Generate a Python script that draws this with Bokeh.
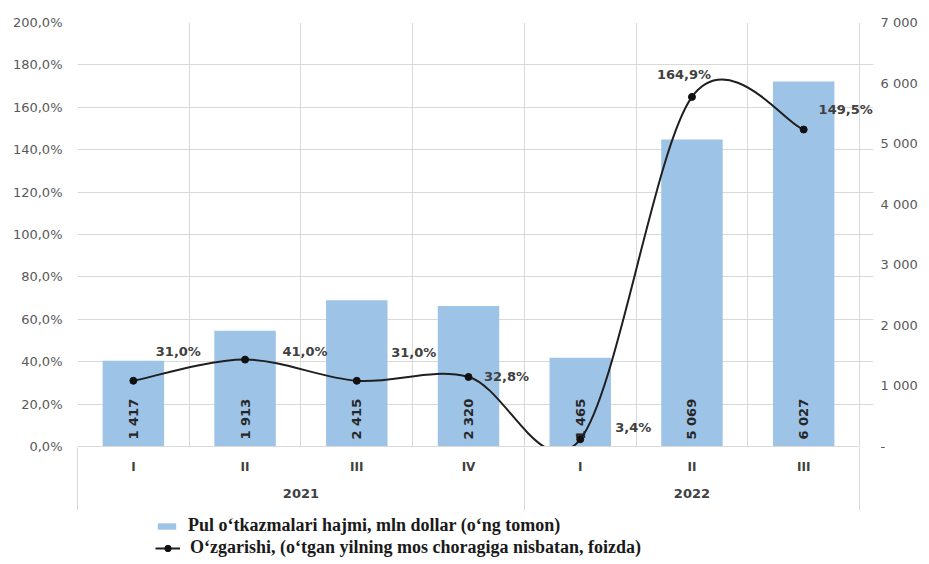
import numpy as np
from bokeh.plotting import figure
from bokeh.layouts import column
from bokeh.models import (Range1d, LinearAxis, FixedTicker, ColumnDataSource,
                          LabelSet, Legend, LegendItem)
from bokeh.core.properties import value
from bokeh.embed import file_html
from bokeh.resources import INLINE

# ---------------- data ----------------
quarters = ["I", "II", "III", "IV", "I", "II", "III"]
years = ["2021", "2022"]
quarters_per_year = [4, 3]
volume = [1417, 1913, 2415, 2320, 1465, 5069, 6027]        # mln dollar (right axis)
change = [31.0, 41.0, 31.0, 32.8, 3.4, 164.9, 149.5]       # % (left axis)
left_ticks = [0, 20, 40, 60, 80, 100, 120, 140, 160, 180, 200]
right_ticks = [0, 1000, 2000, 3000, 4000, 5000, 6000, 7000]
bar_name = "Pul o\u2018tkazmalari hajmi, mln dollar (o\u2018ng tomon)"
line_name = "O\u2018zgarishi, (o\u2018tgan yilning mos choragiga nisbatan, foizda)"

# label offsets in pixels (style only)
pct_dx = [45, 60, 57, 38, 53, -8, 42]
pct_dy = [29, 8, 28, 0, 12, 22, 20]

SANS = "DejaVu Sans"
GRID = "#d9d9d9"
BAR_COLOR = "#9DC3E6"
LINE_COLOR = "#1f1f1f"
DOT_COLOR = "#111111"
X_PAD = 0.125   # extra room right of the last category (style)

n = len(quarters)
xc = np.arange(n) + 0.5
bounds = np.concatenate([[0], np.cumsum(quarters_per_year)]).astype(float)
year_centers = [(bounds[i] + bounds[i + 1]) / 2 for i in range(len(years))]

left_labels = {t: f"{t:.1f}%".replace(".", ",") for t in left_ticks}
right_labels = {t: ("-" if t == 0 else f"{t:,}".replace(",", " ")) for t in right_ticks}
vol_labels = [f"{v:,}".replace(",", " ") for v in volume]
pct_labels = [f"{v:.1f}%".replace(".", ",") for v in change]

p = figure(width=920, height=510,
           x_range=Range1d(0, n + X_PAD), y_range=Range1d(0, 200),
           output_backend="svg", toolbar_location=None,
           min_border_left=77, min_border_right=44, min_border_top=22,
           min_border_bottom=40)
p.outline_line_color = None
p.extra_y_ranges = {"right": Range1d(0, 7000)}

# left axis
ya = p.yaxis[0]
ya.ticker = FixedTicker(ticks=left_ticks)
ya.major_label_overrides = left_labels
ya.axis_line_color = None
ya.major_tick_line_color = None
ya.minor_tick_line_color = None
ya.major_label_standoff = 9
ya.major_label_text_font = SANS
ya.major_label_text_font_size = "13px"
ya.major_label_text_color = "#595959"

# right axis
ra = LinearAxis(y_range_name="right", ticker=FixedTicker(ticks=right_ticks))
ra.major_label_overrides = right_labels
ra.axis_line_color = None
ra.major_tick_line_color = None
ra.minor_tick_line_color = None
ra.major_label_standoff = 1
ra.major_label_text_font = SANS
ra.major_label_text_font_size = "13px"
ra.major_label_text_color = "#595959"
p.add_layout(ra, "right")

# bottom axis: quarters
xa = p.xaxis[0]
xa.ticker = FixedTicker(ticks=list(xc))
xa.bounds = (0, n)
xa.major_label_overrides = {float(x): q for x, q in zip(xc, quarters)}
xa.axis_line_color = GRID
xa.major_tick_line_color = None
xa.minor_tick_line_color = None
xa.major_label_standoff = 7
xa.major_label_text_font = SANS
xa.major_label_text_font_style = "bold"
xa.major_label_text_font_size = "12px"
xa.major_label_text_color = "#404040"

# bottom axis: years
yr = LinearAxis(ticker=FixedTicker(ticks=year_centers))
yr.major_label_overrides = {float(c): y for c, y in zip(year_centers, years)}
yr.axis_line_color = None
yr.major_tick_line_color = None
yr.minor_tick_line_color = None
yr.major_label_standoff = 6
yr.major_label_text_font = SANS
yr.major_label_text_font_style = "bold"
yr.major_label_text_font_size = "13px"
yr.major_label_text_color = "#404040"
p.add_layout(yr, "below")

# group separators (drawn as minor ticks of a label-less axis)
sep = LinearAxis(ticker=FixedTicker(ticks=[], minor_ticks=list(bounds)))
sep.axis_line_color = None
sep.major_tick_line_color = None
sep.major_label_text_font_size = "0px"
sep.minor_tick_line_color = GRID
sep.minor_tick_in = 53
sep.minor_tick_out = 10
sep.major_label_standoff = 0
p.add_layout(sep, "below")

# grids
p.xgrid.ticker = FixedTicker(ticks=list(range(n + 1)))
p.ygrid.ticker = FixedTicker(ticks=left_ticks)
p.ygrid.bounds = (0, n)
p.xgrid.grid_line_color = GRID
p.ygrid.grid_line_color = GRID

# bars
bars = p.vbar(x=xc, top=volume, width=0.55, y_range_name="right",
              fill_color=BAR_COLOR, line_color=None)
p.text(x=xc, y=np.zeros(n), text=vol_labels, angle=np.pi / 2, y_range_name="right",
       text_align="left", text_baseline="middle", y_offset=-7,
       text_font=value(SANS), text_font_style="bold", text_font_size="13px",
       text_color="#262626")

# smoothed line (Catmull-Rom style bezier through the data points)
yv = np.array(change, dtype=float)
idx = np.arange(n - 1)
im1 = np.maximum(idx - 1, 0)
ip2 = np.minimum(idx + 2, n - 1)
cx0 = xc[idx] + (xc[idx + 1] - xc[im1]) / 6
cy0 = yv[idx] + (yv[idx + 1] - yv[im1]) / 6
cx1 = xc[idx + 1] - (xc[ip2] - xc[idx]) / 6
cy1 = yv[idx + 1] - (yv[ip2] - yv[idx]) / 6
curve = p.bezier(x0=xc[idx], y0=yv[idx], x1=xc[idx + 1], y1=yv[idx + 1],
                 cx0=cx0, cy0=cy0, cx1=cx1, cy1=cy1,
                 line_color=LINE_COLOR, line_width=2)
dots = p.scatter(x=xc, y=yv, size=7, fill_color=DOT_COLOR, line_color=DOT_COLOR)

src = ColumnDataSource(dict(x=xc, y=yv, text=pct_labels, dx=pct_dx, dy=pct_dy))
p.add_layout(LabelSet(x="x", y="y", text="text", x_offset="dx", y_offset="dy",
                      source=src, text_align="center", text_baseline="middle",
                      text_font=value(SANS), text_font_style="bold",
                      text_font_size="13px", text_color="#404040"))

# ---------------- legend strip ----------------
lg = figure(width=920, height=48, x_range=Range1d(0, 1), y_range=Range1d(0, 1),
            output_backend="svg", toolbar_location=None,
            x_axis_location=None, y_axis_location=None,
            min_border_left=0, min_border_right=0, min_border_top=0,
            min_border_bottom=0)
lg.outline_line_color = None
lg.grid.visible = False
# legend keys (same series, hidden in the strip; only their legend glyphs show)
key_bar = lg.vbar(x=xc, top=volume, width=0.55, fill_color=BAR_COLOR,
                  line_color=None, visible=False)
key_line = lg.line(x=xc, y=change, line_color=LINE_COLOR, line_width=2, visible=False)
key_dot = lg.scatter(x=xc, y=change, size=7, fill_color=DOT_COLOR,
                     line_color=DOT_COLOR, visible=False)

common = dict(padding=0, margin=0, spacing=0, border_line_color=None,
              background_fill_alpha=0, label_standoff=10,
              label_text_font="Liberation Serif", label_text_font_style="bold",
              label_text_font_size="18px", label_text_color="#1a1a1a",
              label_height=16)
leg1 = Legend(items=[LegendItem(label=bar_name, renderers=[key_bar])],
              location=(78, 22), glyph_width=23, glyph_height=8, **common)
leg2 = Legend(items=[LegendItem(label=line_name, renderers=[key_line, key_dot])],
              location=(78, 0), glyph_width=25, glyph_height=16, **common)
lg.add_layout(leg1)
lg.add_layout(leg2)

open("out.html", "w").write(file_html(column(p, lg, spacing=0), INLINE))
